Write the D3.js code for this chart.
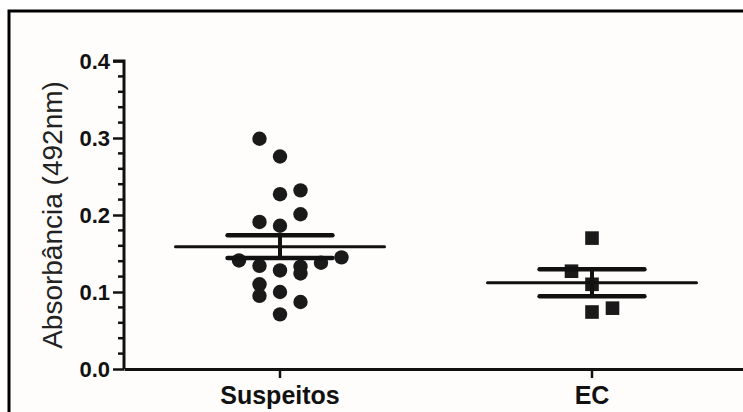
<!DOCTYPE html>
<html>
<head>
<meta charset="utf-8">
<script src="https://cdn.jsdelivr.net/npm/d3@7"></script>
<style>
  body { margin: 0; background: #ffffff; overflow: hidden; }
  svg { display: block; font-family: "Liberation Sans", Arial, sans-serif; }
</style>
</head>
<body>
<script>
// Data
var categories = ["Suspeitos", "EC"];

// absorbance values, one per sample
var suspeitosValues = [0.299, 0.276, 0.227, 0.232, 0.201, 0.191, 0.186, 0.141, 0.134, 0.128,
                       0.133, 0.124, 0.138, 0.145, 0.110, 0.095, 0.100, 0.087, 0.071];
// column slot of each dot in the scatter (Prism style arrangement)
var suspeitosCols   = [-1, 0, 0, 1, 1, -1, 0, -2, -1, 0,
                       1, 1, 2, 3, -1, -1, 0, 1, 0];

var ecValues = [0.170, 0.127, 0.110, 0.074, 0.079];
var ecCols   = [0, -1, 0, 0, 1];

var yTicks = [0.0, 0.1, 0.2, 0.3, 0.4];
var yTitle = "Absorbância (492nm)";

var groups = [
    {name: categories[0], values: suspeitosValues, cols: suspeitosCols, shape: "circle"},
    {name: categories[1], values: ecValues, cols: ecCols, shape: "square"}
];

// SVG
var W = 743, H = 412;
var svg = d3.select("body").append("svg")
    .attr("width", W)
    .attr("height", H);

// frame of the original figure (only left and top edges are visible)
svg.append("rect")
    .attr("x", 9).attr("y", 11)
    .attr("width", W - 9).attr("height", H - 11)
    .attr("fill", "#fefdfb");
svg.append("path")
    .attr("d", "M9," + H + "V11H" + W)
    .attr("fill", "none")
    .attr("stroke", "#000")
    .attr("stroke-width", 3);

// scales
var x = d3.scaleBand()
    .domain(categories)
    .range([124, 748])
    .padding(0);

var y = d3.scaleLinear()
    .domain([0, 0.4])
    .range([369, 61]);

// column offset within a category
var jitter = d3.scaleLinear().domain([0, 1]).range([0, 20.5]);

var cx = function(c) { return x(c) + x.bandwidth() / 2; };

// y axis: major ticks
var yAxis = svg.append("g")
    .attr("transform", "translate(124,0)")
    .call(d3.axisLeft(y).tickValues(yTicks).tickFormat(d3.format(".1f")).tickSize(11).tickPadding(3));

// minor ticks every 0.02
var minor = d3.range(0, 0.4001, 0.02).filter(function(d) {
    return Math.abs(d * 10 - Math.round(d * 10)) > 1e-6;
});
svg.append("g")
    .attr("class", "minor")
    .selectAll("line")
    .data(minor)
    .enter()
    .append("line")
    .attr("x1", 118).attr("x2", 124)
    .attr("y1", function(d) { return y(d); })
    .attr("y2", function(d) { return y(d); })
    .attr("stroke", "#111")
    .attr("stroke-width", 2.5);

yAxis.select(".domain")
    .attr("stroke", "#111")
    .attr("stroke-width", 3)
    .attr("d", "M-11," + y(0.4) + "H0V" + y(0));
yAxis.selectAll(".tick line").attr("stroke", "#111").attr("stroke-width", 2.5);
yAxis.selectAll(".tick text")
    .attr("fill", "#111")
    .style("font-size", "22px")
    .style("font-weight", "bold");

// x axis
var xAxis = svg.append("g")
    .attr("transform", "translate(0," + y(0) + ")")
    .call(d3.axisBottom(x).tickSize(9).tickPadding(8).tickSizeOuter(0));
xAxis.select(".domain").attr("stroke", "#111").attr("stroke-width", 3);
xAxis.selectAll(".tick line").attr("stroke", "#111").attr("stroke-width", 2.5);
xAxis.selectAll(".tick text")
    .attr("fill", "#111")
    .style("font-size", "25px")
    .style("font-weight", "bold");

// y title
svg.append("text")
    .attr("transform", "translate(62," + y(0.2) + ") rotate(-90)")
    .attr("text-anchor", "middle")
    .attr("fill", "#222")
    .style("font-size", "28px")
    .text(yTitle);

// points
groups.forEach(function(g) {
    var pts = g.values.map(function(v, i) { return {v: v, col: g.cols[i]}; });
    var layer = svg.append("g");
    if (g.shape == "circle") {
        layer.selectAll("circle")
            .data(pts)
            .enter()
            .append("circle")
            .attr("cx", function(d) { return cx(g.name) + jitter(d.col); })
            .attr("cy", function(d) { return y(d.v); })
            .attr("r", 7.2)
            .attr("fill", "#1a1a1a");
    } else {
        layer.selectAll("rect")
            .data(pts)
            .enter()
            .append("rect")
            .attr("x", function(d) { return cx(g.name) + jitter(d.col) - 6.8; })
            .attr("y", function(d) { return y(d.v) - 6.8; })
            .attr("width", 13.6)
            .attr("height", 13.6)
            .attr("fill", "#1a1a1a");
    }

    // mean and SEM
    var mean = d3.mean(g.values);
    var sem = d3.deviation(g.values) / Math.sqrt(g.values.length);
    var c = cx(g.name);
    var bw = x.bandwidth();

    layer.append("line")
        .attr("x1", c - bw * 0.335).attr("x2", c + bw * 0.335)
        .attr("y1", y(mean)).attr("y2", y(mean))
        .attr("stroke", "#111").attr("stroke-width", 3)
        .attr("stroke-linecap", "round");

    layer.append("line")
        .attr("x1", c).attr("x2", c)
        .attr("y1", y(mean + sem)).attr("y2", y(mean - sem))
        .attr("stroke", "#111").attr("stroke-width", 4);

    [mean + sem, mean - sem].forEach(function(v) {
        layer.append("line")
            .attr("x1", c - bw * 0.168).attr("x2", c + bw * 0.168)
            .attr("y1", y(v)).attr("y2", y(v))
            .attr("stroke", "#111").attr("stroke-width", 4.5)
            .attr("stroke-linecap", "round");
    });
});
</script>
</body>
</html>
